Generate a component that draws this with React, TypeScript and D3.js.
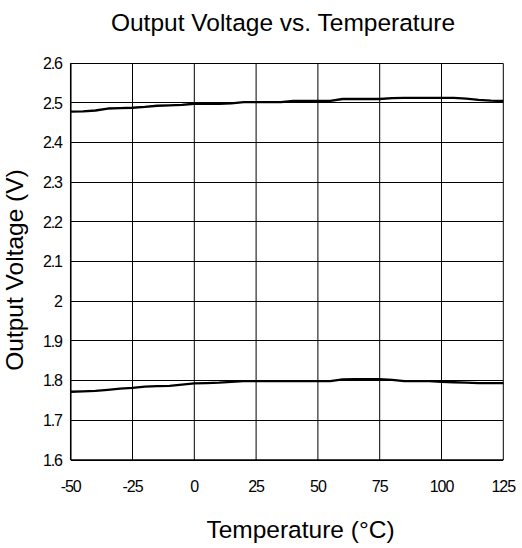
import React from "react";
import * as d3 from "d3";

const temperatures = [-50, -45, -40, -35, -30, -25, -20, -15, -10, -5, 0, 5, 10, 15, 20, 25, 30, 35, 40, 45, 50, 55, 60, 65, 70, 75, 80, 85, 90, 95, 100, 105, 110, 115, 120, 125];
const vout25 = [2.478, 2.479, 2.481, 2.486, 2.487, 2.488, 2.490, 2.493, 2.494, 2.495, 2.498, 2.498, 2.498, 2.499, 2.502, 2.502, 2.502, 2.502, 2.505, 2.505, 2.505, 2.505, 2.510, 2.510, 2.510, 2.510, 2.512, 2.513, 2.513, 2.513, 2.513, 2.513, 2.511, 2.508, 2.506, 2.505];
const vout18 = [1.772, 1.773, 1.774, 1.777, 1.780, 1.782, 1.785, 1.786, 1.787, 1.790, 1.793, 1.794, 1.795, 1.797, 1.799, 1.799, 1.799, 1.799, 1.799, 1.799, 1.799, 1.799, 1.803, 1.804, 1.804, 1.804, 1.802, 1.799, 1.799, 1.799, 1.797, 1.796, 1.795, 1.794, 1.794, 1.794];
const xTicks = [-50, -25, 0, 25, 50, 75, 100, 125];
const yTicks = [1.6, 1.7, 1.8, 1.9, 2.0, 2.1, 2.2, 2.3, 2.4, 2.5, 2.6];

const title = "Output Voltage vs. Temperature";
const xLabel = "Temperature (°C)";
const yLabel = "Output Voltage (V)";

const W = 522;
const H = 548;
const plot = { left: 70.7, right: 503.3, top: 63.3, bottom: 460 };
const FONT = "'Liberation Sans', Arial, sans-serif";

export default function App() {
  const x = d3.scaleLinear().domain([-50, 125]).range([plot.left, plot.right]);
  const y = d3.scaleLinear().domain([1.6, 2.6]).range([plot.bottom, plot.top]);
  const line = d3
    .line<number>()
    .x((_, i) => x(temperatures[i]))
    .y((d) => y(d));
  const fmtY = (v: number) => (Math.abs(v - 2) < 1e-9 ? "2" : d3.format(".1f")(v));

  return (
    <svg
      width={W}
      height={H}
      style={{ position: "absolute", left: 0, top: 0, background: "#fff" }}
      fontFamily={FONT}
    >
      <rect x={0} y={0} width={W} height={H} fill="#fff" />
      {/* horizontal grid */}
      {yTicks.map((t) => (
        <line key={"h" + t} x1={plot.left} x2={plot.right} y1={y(t)} y2={y(t)} stroke="#000" strokeWidth={1} shapeRendering="crispEdges" />
      ))}
      {/* vertical grid */}
      {xTicks.map((t) => (
        <line key={"v" + t} x1={x(t)} x2={x(t)} y1={plot.top} y2={plot.bottom} stroke="#000" strokeWidth={1} />
      ))}
      {/* axes */}
      <line x1={plot.left} x2={plot.left} y1={plot.top} y2={plot.bottom} stroke="#000" strokeWidth={1.5} />
      <line x1={plot.left} x2={plot.right} y1={plot.bottom} y2={plot.bottom} stroke="#000" strokeWidth={1.5} />

      {/* data */}
      <path d={line(vout25) || ""} fill="none" stroke="#000" strokeWidth={2.3} strokeLinejoin="round" />
      <path d={line(vout18) || ""} fill="none" stroke="#000" strokeWidth={2.3} strokeLinejoin="round" />

      {/* y tick labels */}
      {yTicks.map((t) => (
        <text key={"yl" + t} x={plot.left - 9} y={y(t)} dy="0.36em" textAnchor="end" fontSize={16} letterSpacing={-1.2} fill="#000">
          {fmtY(t)}
        </text>
      ))}
      {/* x tick labels */}
      {xTicks.map((t) => (
        <text key={"xl" + t} x={x(t)} y={492} textAnchor="middle" fontSize={16} letterSpacing={-1} fill="#000">
          {t}
        </text>
      ))}

      <text x={283} y={31} textAnchor="middle" fontSize={24.5} fill="#000">
        {title}
      </text>
      <text x={300.5} y={538} textAnchor="middle" fontSize={24.5} fill="#000">
        {xLabel}
      </text>
      <text transform={`translate(23, 270) rotate(-90)`} textAnchor="middle" fontSize={24.5} fill="#000">
        {yLabel}
      </text>
    </svg>
  );
}
